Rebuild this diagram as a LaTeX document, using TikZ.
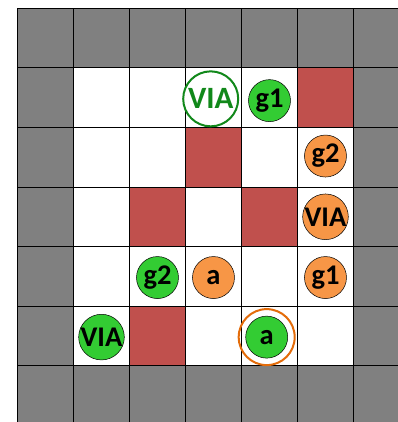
\documentclass[tikz,border=0pt]{standalone}
\usepackage{fontspec}
\setmainfont{Carlito}
\usepackage{xcolor}
\definecolor{wallgray}{HTML}{808080}
\definecolor{blockred}{HTML}{C0504D}
\definecolor{netgreen}{HTML}{33CC33}
\definecolor{netorange}{HTML}{F79646}
\definecolor{ringorange}{HTML}{E46C0A}
\definecolor{viagreen}{HTML}{11881A}

\begin{document}
\begin{tikzpicture}[x=56pt,y=-59.57pt,
  cellline/.style={black,line width=1pt},
  pin/.style={circle,draw=black,line width=0.5pt,minimum size=42pt,inner sep=0pt,
    font=\fontsize{28.5}{28.5}\selectfont\bfseries},
  greenpin/.style={pin,fill=netgreen},
  orangepin/.style={pin,fill=netorange},
  viaring/.style={circle,draw=viagreen,line width=2pt,fill=white,minimum size=55pt,
    inner sep=0pt,text=viagreen,font=\fontsize{31}{31}\selectfont\bfseries}]
  \useasboundingbox (-0.3125,-0.1393) rectangle (6.7946,6.945);
  \clip (-0.3125,-0.1393) rectangle (6.7946,6.945);
  % walls and free cells
  \fill[wallgray] (0,0) rectangle (7,7);
  \fill[white] (1,1) rectangle (6,6);
  % blocked cells
  \foreach \c/\r in {5/1,3/2,2/3,4/3,2/5}
    \fill[blockred] (\c,\r) rectangle ++(1,1);
  \foreach \i in {0,...,7} {
    \draw[cellline] (\i,0) -- (\i,7);
    \draw[cellline] (0,\i) -- (7,\i);
  }
  % pins
  \node[viaring] (viaTop) at (3.45,1.52) {VIA};
  \node[greenpin] (gOneGreen) at (4.5,1.55) {g1};
  \node[orangepin] (gTwoOrange) at (5.5,2.48) {g2};
  \node[orangepin] (viaOrange) at (5.5,3.5) {VIA};
  \node[greenpin] (gTwoGreen) at (2.5,4.52) {g2};
  \node[orangepin] (aOrange) at (3.5,4.52) {a};
  \node[orangepin] (gOneOrange) at (5.5,4.52) {g1};
  \node[greenpin] (viaGreen) at (1.5,5.52) {VIA};
  \draw[ringorange,line width=2pt] (4.45,5.52) circle (28pt);
  \node[greenpin] (aGreen) at (4.45,5.52) {a};
\end{tikzpicture}
\end{document}
